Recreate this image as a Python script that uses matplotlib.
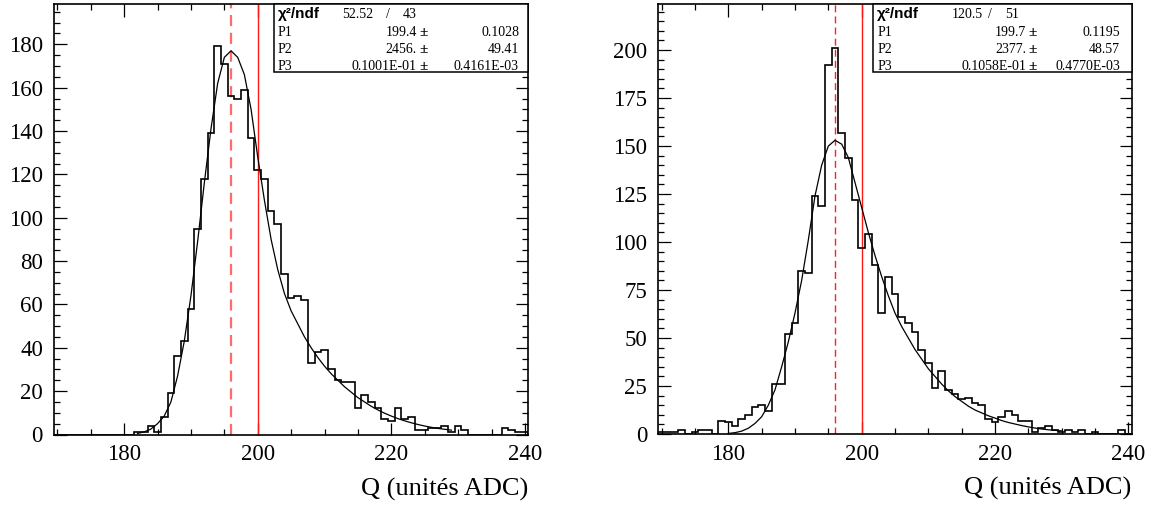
import matplotlib.pyplot as plt
import numpy as np
from matplotlib.ticker import MultipleLocator
from matplotlib.patches import Rectangle

# Histogram bins: 1 ADC unit wide, centred on 170..240
bin_edges = np.arange(169.5, 241.5, 1.0)

# Left panel counts (bins 170..240)
counts_left = [0, 0, 0, 0, 0, 0, 0, 0, 0, 0, 0, 0,          # 170-181
               1, 1, 4, 1, 8, 19, 36, 43, 58, 95,            # 182-191
               118, 139, 179, 171, 156, 155, 159, 137, 122, 118,  # 192-201
               103, 97, 74, 63, 64, 62, 33, 38, 39, 30,      # 202-211
               25, 24, 24, 12, 18, 15, 12, 7, 6, 12,         # 212-221
               7, 8, 2, 2, 3, 3, 4, 1, 4, 2,                 # 222-231
               0, 0, 0, 0, 0, 3, 2, 1, 1]                    # 232-240

# Right panel counts (bins 170..240)
counts_right = [1, 1, 1, 2, 0, 1, 2, 2, 0, 7,               # 170-179
                6, 4, 8, 10, 14, 15, 12, 26, 26, 52,         # 180-189
                58, 85, 84, 124, 119, 192, 201, 157, 144, 122,  # 190-199
                97, 104, 88, 63, 82, 73, 61, 58, 53, 44,     # 200-209
                37, 24, 33, 23, 21, 18, 19, 16, 15, 8,       # 210-219
                6, 9, 12, 10, 7, 7, 1, 3, 4, 2,              # 220-229
                1, 2, 1, 2, 0, 1, 0, 0, 0, 2, 0]             # 230-240

# Fitted curves
fit_x_left = np.arange(182, 230)
fit_y_left = [0.5, 1.2, 2.5, 5, 8.5, 15, 27, 43, 64, 89,
              116, 141, 162, 174, 177, 174, 166, 150, 128, 108,
              90, 76, 65, 57, 51, 45, 40, 35.5, 31.5, 28,
              25, 22, 19.5, 17, 15, 13, 11.3, 9.8, 8.5, 7.3,
              6.3, 5.4, 4.6, 3.9, 3.3, 2.8, 2.4, 2.0]

fit_x_right = np.arange(180, 231)
fit_y_right = [0.3, 0.7, 1.5, 3, 5.5, 9, 15, 23, 35, 48,
               63, 80, 101, 124, 140, 150, 153, 151, 144, 131,
               118, 105, 93, 82, 72, 63, 56, 50, 44, 39,
               34, 30, 26, 22.5, 19.5, 17, 14.5, 12.5, 11, 9.5,
               8.3, 7, 6, 5.2, 4.4, 3.7, 3.1, 2.6, 2.2, 1.9, 1.6]

peak_pos = [196.0, 196.0]
ref_pos = 200.0

stats_left = {"chi2": "52.52", "ndf": "43",
              "rows": [("P1", "199.4", "0.1028"),
                       ("P2", "2456.", "49.41"),
                       ("P3", "0.1001E-01", "0.4161E-03")]}
stats_right = {"chi2": "120.5", "ndf": "51",
               "rows": [("P1", "199.7", "0.1195"),
                        ("P2", "2377.", "48.57"),
                        ("P3", "0.1058E-01", "0.4770E-03")]}

W, H = 1157, 516
plt.rcParams['font.family'] = ['Liberation Serif', 'DejaVu Serif']
fig = plt.figure(figsize=(W / 100, H / 100), dpi=100)


def px(x, y):
    return x / W, 1 - y / H


panels = [
    dict(rect=(54, 4, 528.3, 434.5), counts=counts_left, fx=fit_x_left, fy=fit_y_left,
         ymax=198.6, ymaj=20, dash_col='#ff6b6b', dash_lw=1.6, dash=(5, 3),
         stats=stats_left, box_x=274,
         cols=dict(chi=342, slash=388, ndf=403, val=428, err=519)),
    dict(rect=(658.3, 4, 1131.7, 434), counts=counts_right, fx=fit_x_right, fy=fit_y_right,
         ymax=224, ymaj=25, dash_col='#ff2020', dash_lw=1.0, dash=(5, 3),
         stats=stats_right, box_x=873.3,
         cols=dict(chi=952, slash=990, ndf=1005, val=1037, err=1120)),
]

for i, p in enumerate(panels):
    x0, y0, x1, y1 = p['rect']
    ax = fig.add_axes([x0 / W, 1 - y1 / H, (x1 - x0) / W, (y1 - y0) / H])
    ax.stairs(p['counts'], bin_edges, color='black', lw=1.2, zorder=3)
    ax.plot(p['fx'], p['fy'], color='black', lw=0.9, zorder=4)
    ax.axvline(peak_pos[i], color=p['dash_col'], lw=p['dash_lw'], dashes=p['dash'], zorder=2)
    ax.axvline(ref_pos, color='#ff1a1a', lw=1.0, zorder=2)

    ax.set_xlim(169.5, 240.5)
    ax.set_ylim(0, p['ymax'])
    ax.xaxis.set_major_locator(MultipleLocator(20))
    ax.xaxis.set_minor_locator(MultipleLocator(5))
    ax.yaxis.set_major_locator(MultipleLocator(p['ymaj']))
    ax.yaxis.set_minor_locator(MultipleLocator(5))
    ax.tick_params(which='both', direction='in', top=True, right=True, width=0.9,
                   labelsize=16.5, colors='black')
    ax.tick_params(which='major', length=9)
    ax.tick_params(which='minor', length=4.5)
    ax.tick_params(axis='x', pad=7)
    ax.tick_params(axis='y', pad=8)
    for s in ax.spines.values():
        s.set_linewidth(1.2)

    ax.text(1.0, -0.127, "Q (unités ADC)", transform=ax.transAxes,
            ha='right', va='center', fontsize=19)

    # statistics box
    bx = p['box_x']
    fig.patches.append(Rectangle(px(bx, 72), (x1 - bx) / W, (72 - y0) / H,
                                 transform=fig.transFigure, facecolor='white',
                                 edgecolor='black', lw=1.1, zorder=5))
    c = p['cols']
    st = p['stats']
    fig.text(*px(bx + 4, 14), "χ²/ndf", family=['Liberation Sans', 'DejaVu Sans'],
             weight='bold', fontsize=11, va='center', ha='left', zorder=6)
    fig.text(*px(c['chi'], 14), st['chi2'], fontsize=10, va='center', ha='left', zorder=6)
    fig.text(*px(c['slash'], 14), "/", fontsize=10, va='center', ha='center', zorder=6)
    fig.text(*px(c['ndf'], 14), st['ndf'], fontsize=10, va='center', ha='left', zorder=6)
    for k, (name, val, err) in enumerate(st['rows']):
        yy = 32 + k * 17.3
        fig.text(*px(bx + 4, yy), name, fontsize=10, va='center', ha='left', zorder=6)
        fig.text(*px(c['val'] - 11, yy), val, fontsize=10, va='center', ha='right', zorder=6)
        fig.text(*px(c['val'], yy), "±", fontsize=11, weight='bold', va='center',
                 ha='right', zorder=6)
        fig.text(*px(c['err'], yy), err, fontsize=10, va='center', ha='right', zorder=6)

fig.savefig("out.png", dpi=100)
